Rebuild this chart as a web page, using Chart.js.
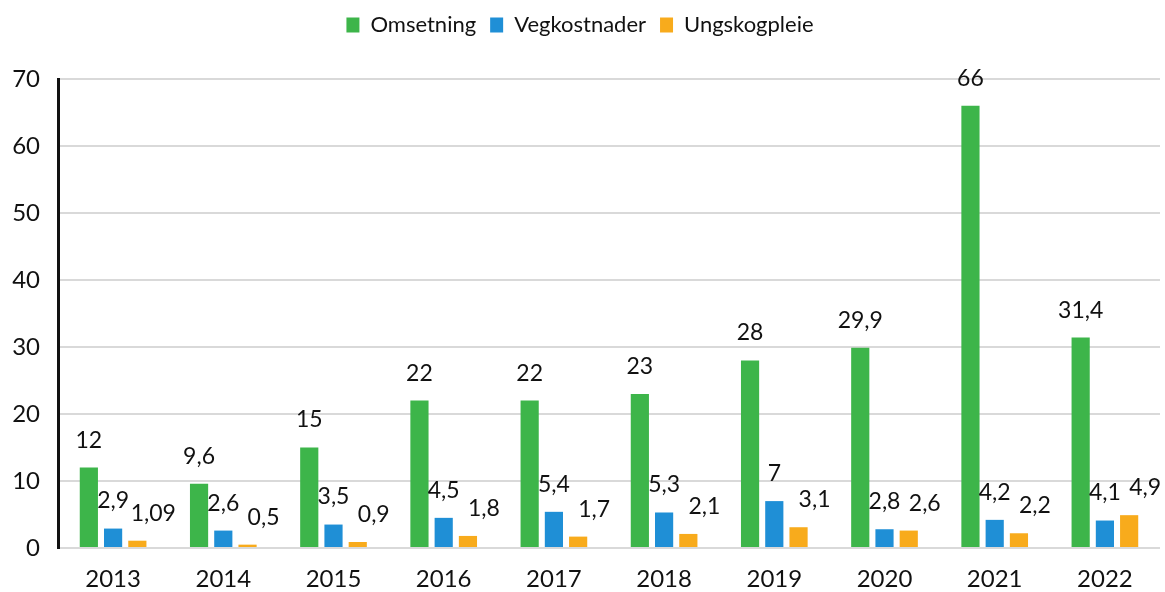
<!DOCTYPE html>
<html>
<head>
<meta charset="utf-8">
<script src="https://cdn.jsdelivr.net/npm/chart.js@4/dist/chart.umd.min.js"></script>
<style>
  html, body { margin: 0; padding: 0; background: #fff; }
  #wrap { width: 1165px; height: 592px; }
</style>
</head>
<body>
<div id="wrap"><canvas id="myChart"></canvas></div>
<script>
var years = ['2013', '2014', '2015', '2016', '2017', '2018', '2019', '2020', '2021', '2022'];
var omsetning = [12, 9.6, 15, 22, 22, 23, 28, 29.9, 66, 31.4];
var vegkostnader = [2.9, 2.6, 3.5, 4.5, 5.4, 5.3, 7, 2.8, 4.2, 4.1];
var ungskogpleie = [1.09, 0.5, 0.9, 1.8, 1.7, 2.1, 3.1, 2.6, 2.2, 4.9];

var fontName = 'Lato, "Open Sans", sans-serif';

// norsk desimalkomma
function fmt(v) {
  return String(v).replace('.', ',');
}

// verdier over stolpene
var labelPlugin = {
  id: 'barLabels',
  afterDatasetsDraw: function(chart) {
    var ctx = chart.ctx;
    var shift = [0, 0, 16];
    ctx.save();
    ctx.font = '23px ' + fontName;
    ctx.fillStyle = '#111';
    ctx.textAlign = 'center';
    ctx.textBaseline = 'bottom';
    chart.data.datasets.forEach(function(ds, i) {
      var meta = chart.getDatasetMeta(i);
      meta.data.forEach(function(bar, j) {
        ctx.fillText(fmt(ds.data[j]), bar.x + shift[i], bar.y - 16);
      });
    });
    ctx.restore();
  }
};

// litt mer luft under forklaringen
var legendSpace = {
  id: 'legendSpace',
  beforeInit: function(chart) {
    var fit = chart.legend.fit;
    chart.legend.fit = function() {
      fit.bind(chart.legend)();
      this.height += 33;
    };
  }
};

new Chart('myChart', {
  type: 'bar',
  data: {
    labels: years,
    datasets: [{
      label: 'Omsetning',
      data: omsetning,
      backgroundColor: '#3db54a',
      categoryPercentage: 0.66,
      barPercentage: 0.75
    }, {
      label: 'Vegkostnader',
      data: vegkostnader,
      backgroundColor: '#1f8fd6',
      categoryPercentage: 0.66,
      barPercentage: 0.75
    }, {
      label: 'Ungskogpleie',
      data: ungskogpleie,
      backgroundColor: '#f8ab1c',
      categoryPercentage: 0.66,
      barPercentage: 0.75
    }]
  },
  plugins: [labelPlugin, legendSpace],
  options: {
    responsive: true,
    maintainAspectRatio: false,
    animation: false,
    layout: { padding: { left: 0, right: 5, top: 0, bottom: 0 } },
    plugins: {
      legend: {
        position: 'top',
        labels: {
          color: '#111',
          font: { family: fontName, size: 22 },
          boxWidth: 13,
          boxHeight: 15,
          padding: 14
        }
      },
      tooltip: { enabled: false }
    },
    scales: {
      x: {
        afterFit: function(s) { s.height = 44; },
        grid: { display: false },
        border: { display: false },
        ticks: {
          color: '#111',
          font: { family: fontName, size: 24 },
          padding: 9
        }
      },
      y: {
        min: 0,
        max: 70,
        afterFit: function(s) { s.width = 58; },
        grid: { color: '#d9d9d9', lineWidth: 2, drawTicks: false },
        border: { display: true, color: '#111', width: 3 },
        ticks: {
          stepSize: 10,
          color: '#111',
          font: { family: fontName, size: 24 },
          padding: 18
        }
      }
    }
  }
});
</script>
</body>
</html>
